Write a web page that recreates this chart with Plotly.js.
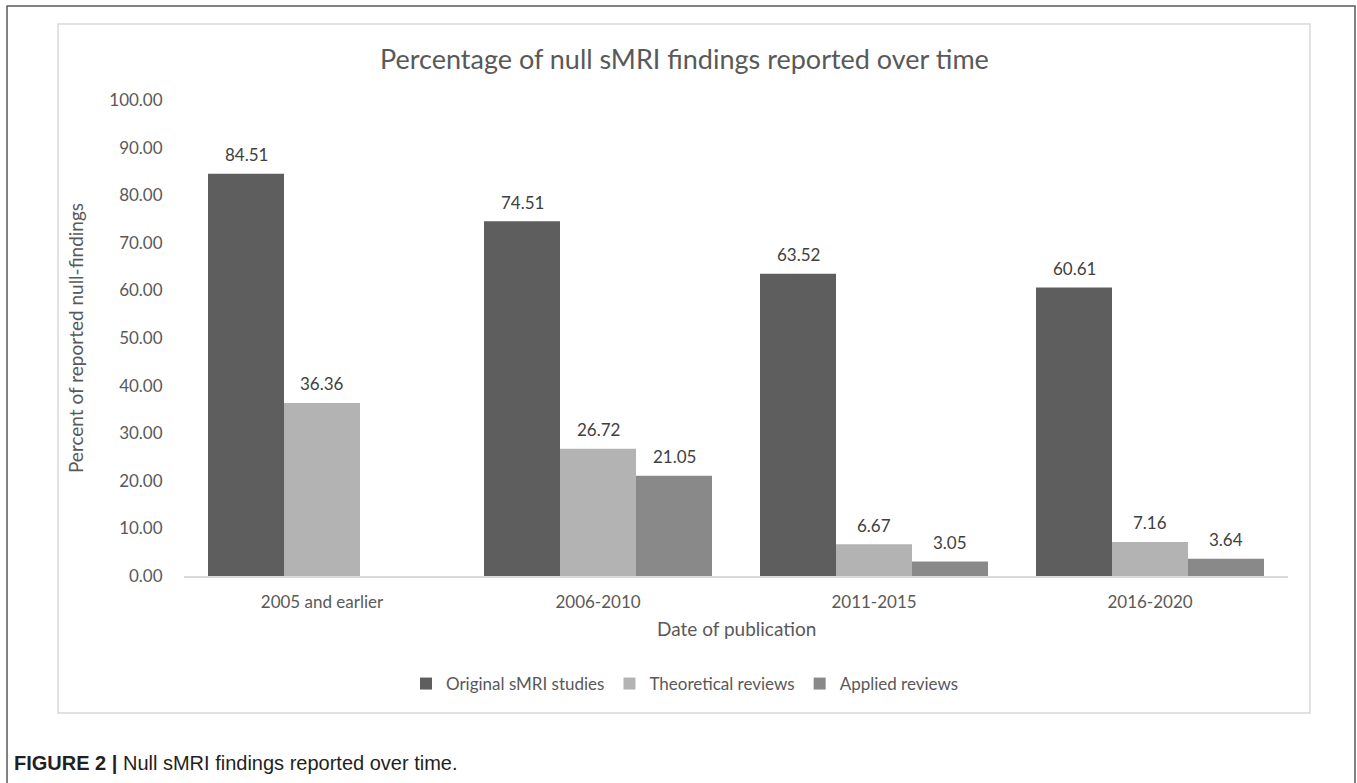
<!DOCTYPE html>
<html>
<head>
<meta charset="utf-8">
<script src="https://cdn.plot.ly/plotly-3.0.1.min.js"></script>
<style>html,body{margin:0;padding:0;background:#fff;}#chart{width:1357px;height:783px;}</style>
</head>
<body>
<div id="chart"></div>
<script>
const categories = ["2005 and earlier", "2006-2010", "2011-2015", "2016-2020"];
const seriesNames = ["Original sMRI studies", "Theoretical reviews", "Applied reviews"];
const original = [84.51, 74.51, 63.52, 60.61];
const theoretical = [36.36, 26.72, 6.67, 7.16];
const applied = [null, 21.05, 3.05, 3.64];
const yTickVals = [0, 10, 20, 30, 40, 50, 60, 70, 80, 90, 100];

const colors = ["#5e5e5e", "#b3b3b3", "#898989"];
const allSeries = [original, theoretical, applied];
const FONT = "Lato, 'Open Sans', sans-serif";
const TXT = "#595959";

const traces = allSeries.map((vals, i) => ({
  type: "bar",
  name: seriesNames[i],
  x: categories,
  y: vals,
  marker: {color: colors[i]},
  hoverinfo: "x+y+name"
}));

const xshifts = [-76, 0, 76];
const annotations = [];
allSeries.forEach((vals, i) => {
  vals.forEach((v, j) => {
    if (v === null) return;
    annotations.push({
      x: categories[j], y: v, xref: "x", yref: "y",
      text: v.toFixed(2), showarrow: false,
      xshift: xshifts[i], yshift: 19,
      font: {family: FONT, size: 17, color: "#404040"}
    });
  });
});

annotations.push({
  xref: "paper", yref: "paper", x: 0.4538, y: 1.0, yshift: 42,
  text: "Percentage of null sMRI findings reported over time",
  showarrow: false, xanchor: "center", yanchor: "middle",
  font: {family: FONT, size: 27, color: TXT}
});
annotations.push({
  xref: "paper", yref: "paper", x: -0.0987, y: 0.5,
  text: "Percent of reported null-findings", textangle: -90,
  showarrow: false, xanchor: "center", yanchor: "middle",
  font: {family: FONT, size: 19, color: TXT}
});
annotations.push({
  xref: "paper", yref: "paper", x: 0.5, y: 0, yshift: -52,
  text: "Date of publication",
  showarrow: false, xanchor: "center", yanchor: "middle",
  font: {family: FONT, size: 19, color: TXT}
});
annotations.push({
  xref: "paper", yref: "paper", x: -0.1558, y: 0, yshift: -187,
  text: "<b>FIGURE 2 |</b> Null sMRI findings reported over time.",
  showarrow: false, xanchor: "left", yanchor: "middle",
  font: {family: "'Liberation Sans', Arial, sans-serif", size: 20, color: "#231f20"}
});

const layout = {
  width: 1357, height: 783,
  margin: {l: 184, r: 69, t: 100, b: 207, pad: 0},
  paper_bgcolor: "#ffffff", plot_bgcolor: "#ffffff",
  barmode: "group", bargap: 0.174, bargroupgap: 0,
  showlegend: true,
  legend: {
    orientation: "h", x: 0.4538, xanchor: "center", y: -0.2269, yanchor: "middle",
    font: {family: FONT, size: 17, color: TXT}, itemwidth: 30, traceorder: "normal",
    bgcolor: "rgba(0,0,0,0)"
  },
  xaxis: {
    type: "category", showgrid: false, zeroline: false,
    showline: true, linecolor: "#d9d9d9", linewidth: 2,
    ticks: "outside", ticklen: 10, tickcolor: "rgba(0,0,0,0)",
    tickfont: {family: FONT, size: 17, color: TXT}
  },
  yaxis: {
    range: [0, 100], tickvals: yTickVals, tickformat: ".2f",
    showgrid: false, zeroline: false, showline: false,
    ticks: "outside", ticklen: 17, tickcolor: "rgba(0,0,0,0)",
    tickfont: {family: FONT, size: 17, color: TXT}
  },
  annotations: annotations,
  shapes: [
    {type: "rect", xref: "paper", yref: "paper", x0: -0.1603, x1: 1.0607, y0: -0.48, y1: 1.1975,
     line: {color: "#5a5a5a", width: 1.5}, fillcolor: "rgba(0,0,0,0)", layer: "below"},
    {type: "rect", xref: "paper", yref: "paper", x0: -0.1141, x1: 1.0199, y0: -0.2878, y1: 1.1597,
     line: {color: "#d9d9d9", width: 1.5}, fillcolor: "rgba(0,0,0,0)", layer: "below"}
  ]
};

Plotly.newPlot("chart", traces, layout, {displayModeBar: false, staticPlot: true});
</script>
</body>
</html>
